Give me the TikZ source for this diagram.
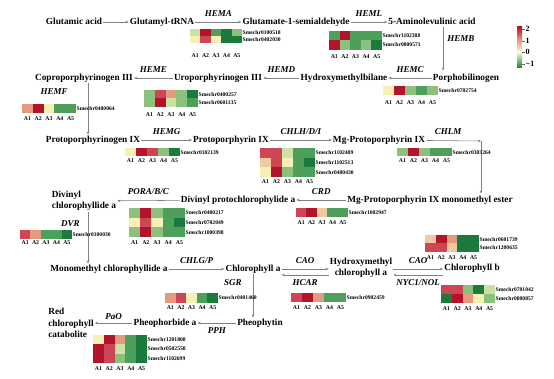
\documentclass[tikz,border=0pt]{standalone}
\usepackage{fontspec}
\setmainfont{Liberation Serif}
\usetikzlibrary{arrows.meta,positioning,calc}

% heat map colours, dark green to dark red
\definecolor{h1}{HTML}{1B7A3E}
\definecolor{h2}{HTML}{4E9E5C}
\definecolor{h3}{HTML}{8CC07C}
\definecolor{h4}{HTML}{CBE2A4}
\definecolor{h5}{HTML}{F6F0B4}
\definecolor{h6}{HTML}{F1C9A0}
\definecolor{h7}{HTML}{E59A80}
\definecolor{h8}{HTML}{CD4653}
\definecolor{h9}{HTML}{B3142B}
\definecolor{hw}{HTML}{FAF6DE}

\tikzset{
  >={Stealth[length=3.2pt,width=2.6pt]},
  cpd/.style={font=\bfseries\fontsize{9.3}{10.5}\selectfont, inner sep=1pt,
    text height=6.5pt, text depth=2pt},
  cpdm/.style={font=\bfseries\fontsize{9.3}{11.2}\selectfont, inner sep=1pt,
    align=left},
  cpdc/.style={cpdm, align=center},
  enz/.style={font=\bfseries\itshape\fontsize{9}{10}\selectfont, inner sep=1pt,
    text height=6.5pt, text depth=1.5pt},
  gene/.style={font=\bfseries\fontsize{5.6}{6.2}\selectfont, inner sep=0.5pt,
    anchor=west},
  col/.style={font=\bfseries\fontsize{5.8}{6.5}\selectfont, inner sep=0pt},
  legnum/.style={font=\bfseries\fontsize{8}{9}\selectfont, inner sep=0.5pt,
    anchor=west},
  arrow/.style={->, draw=black!50, line width=0.55pt}
}

% #1 name, #2 x, #3 y, #4 cell width, #5 cell height, #6 y of A1..A5, #7 rows
\newcommand{\heatmap}[7]{%
  \foreach \cols/\gene [count=\ri] in {#7} {
    \foreach \cc [count=\ci] in \cols
      \fill[\cc] ({#2+(\ci-1)*#4},{#3+(\ri-1)*#5}) rectangle ++(#4,#5);
    \node[gene] (#1-g\ri) at ({#2+5*#4},{#3+(\ri-0.5)*#5}) {\gene};
  }
  \foreach \ci in {1,...,5}
    \node[col] (#1-a\ci) at ({#2+(\ci-0.5)*#4},#6) {A\ci};
}

\begin{document}
\begin{tikzpicture}[x=1pt, y=-1pt]
\useasboundingbox (0,0) rectangle (554,379);

% 1 : Glutamic acid -> 5-Aminolevulinic acid
\node[cpd] (glu) at (74,22) {Glutamic acid};
\node[cpd] (trna) at (162,22) {Glutamyl-tRNA};
\node[cpd] (gsa) at (296,22) {Glutamate-1-semialdehyde};
\node[cpd] (ala) at (432,22) {5-Aminolevulinic acid};
\draw[arrow] (glu) -- (trna);
\draw[arrow] (trna) -- node[enz, above=3pt] (hema) {HEMA} (gsa);
\draw[arrow] (gsa) -- node[enz, above=3pt] (heml) {HEML} (ala);
\heatmap{mapA}{190}{29}{10.4}{7}{56}{{h4,h9,h2,h1,h3}/Smechr0100518, {h5,h8,h5,h1,h1}/Smechr0402030}
\heatmap{mapL}{329}{31}{10.6}{9.3}{57}{{h2,h9,h2,h2,h2}/Smechr1102388, {h9,h3,h2,h3,h1}/Smechr0800571}

% 2 : Porphobilinogen -> Coproporphyrinogen III
\node[cpd] (pbg) at (466,78) {Porphobilinogen};
\node[cpd] (hmb) at (344,78) {Hydroxymethylbilane};
\node[cpd] (uro) at (218,78) {Uroporphyrinogen III};
\node[cpd] (copro) at (84,78) {Coproporphyrinogen III};
\draw[arrow, shorten >=2pt] ([xshift=11pt]ala.south) -- node[enz, right=3pt, pos=0.25] (hemb) {HEMB} ([xshift=11pt]ala.south |- pbg.north);
\draw[arrow] (pbg) -- node[enz, above=3pt] (hemc) {HEMC} (hmb);
\draw[arrow] (hmb) -- node[enz, above=3pt] (hemd) {HEMD} (uro);
\draw[arrow] (uro) -- node[enz, above=3pt] (heme) {HEME} (copro);
\heatmap{mapC}{383}{86}{11}{9}{103}{{h5,h9,h3,h2,h3}/Smechr0702754}
\heatmap{mapD}{144}{90}{10.8}{8.5}{115}{{h3,h8,h7,h3,h1}/Smechr0400257, {h3,h9,h4,h3,h2}/Smechr0601135}

% 3 : Protoporphyrinogen IX -> Mg-Protoporphyrin IX
\node[cpd] (protogen) at (93,140) {Protoporphyrinogen IX};
\node[cpd] (proto) at (231,140) {Protoporphyrin IX};
\node[cpd] (mgproto) at (379,140) {Mg-Protoporphyrin IX};
\draw[arrow] ([xshift=4pt]copro.south) -- node[enz, left=19pt, pos=0.17] (hemf) {HEMF} ([xshift=4pt]copro.south |- protogen.north);
\draw[arrow] (protogen) -- node[enz, above=3pt] (hemg) {HEMG} (proto);
\draw[arrow] (proto) -- node[enz, above=3pt] (chlh) {CHLH/D/I} (mgproto);
\heatmap{mapF}{22}{104}{10.8}{9}{119}{{h7,h9,h5,h2,h2}/Smechr0400064}
\heatmap{mapG}{125}{148}{11}{8.5}{161}{{h5,h9,h8,h3,h1}/Smechr0102139}
\heatmap{mapH}{260}{148}{11}{9.7}{182}{{h8,h8,h4,h2,h2}/Smechr1102489, {h6,h8,h5,h2,h1}/Smechr1102513, {h5,h9,h3,h2,h2}/Smechr0400430}

% 4 : monomethyl ester -> Divinyl chlorophyllide a
\node[cpd] (ester) at (430,200) {Mg-Protoporphyrin IX monomethyl ester};
\node[cpd] (dvpchl) at (238,200) {Divinyl protochlorophylide a};
\node[cpdm] (dvchl) at (84,201) {Divinyl\\chlorophyllide a};
\coordinate (chlmc) at (481,141);
\draw[arrow] (mgproto) -- node[enz, above=3pt, pos=0.4] (chlm) {CHLM} (chlmc);
\draw[arrow, shorten >=1pt] (chlmc) -- (chlmc |- ester.north);
\draw[arrow] (ester) -- node[enz, above=3pt] (crd) {CRD} (dvpchl);
\draw[arrow] (dvpchl) -- node[enz, above=3pt] (pora) {PORA/B/C} (dvchl);
\heatmap{mapM}{397}{148}{11}{8.5}{161}{{h3,h9,h3,h2,h2}/Smechr0303264}
\heatmap{mapR}{296}{208}{10.4}{9}{223}{{h8,h9,h6,h2,h2}/Smechr1002947}
\heatmap{mapP}{129}{208}{11.2}{9.7}{243}{{h3,h9,h3,h2,h2}/Smechr0400217, {h5,h8,h5,h2,h1}/Smechr0702049, {h3,h9,h3,h2,h2}/Smechr1000398}

% 5 : Monomethyl chlorophyllide a -> Chlorophyll b
\node[cpd] (mono) at (109,269) {Monomethyl chlorophyllide a};
\node[cpd] (chla) at (253,269) {Chlorophyll a};
\node[cpdc] (hchla) at (361,268) {Hydroxymethyl\\chlorophyll a};
\node[cpd] (chlb) at (472,268) {Chlorophyll b};
\draw[arrow] ([xshift=4pt]dvchl.south west -| copro.south) -- node[enz, left=7pt, pos=0.24] (dvr) {DVR} ([xshift=4pt]copro.south |- mono.north);
\draw[arrow] (mono) -- node[enz, above=3pt] (chlg) {CHLG/P} (chla);
\draw[arrow] (chla.east) -- node[enz, above=3pt] (caoa) {CAO} (chla.east -| hchla.west);
\draw[arrow] ([yshift=-6pt]chla.east -| hchla.west) -- node[enz, below=3pt] (hcar) {HCAR} ([yshift=-6pt]chla.east);
\draw[arrow] (chla.east -| hchla.east) -- node[enz, above=3pt] (caob) {CAO} (chla.east -| chlb.west);
\draw[arrow] ([yshift=-6pt]chla.east -| chlb.west) -- node[enz, below=3pt] (nyc) {NYC1/NOL} ([yshift=-6pt]chla.east -| hchla.east);
\heatmap{mapV}{20}{230}{10.4}{9}{243}{{h8,h7,h2,h2,h1}/Smechr0100030}
\heatmap{mapB}{425}{235}{10.8}{8.5}{258}{{h6,h9,h7,h1,h1}/Smechr0601739, {h8,h8,h6,h1,h1}/Smechr1200635}
\heatmap{mapN}{441}{285}{10.8}{9}{309}{{h8,h8,h3,h1,h4}/Smechr0701042, {h1,h9,h7,h5,h3}/Smechr0800857}
\heatmap{mapK}{291}{293}{11}{9}{308}{{h8,h9,h7,h2,h2}/Smechr0902459}

% 6 : Pheophytin -> Red chlorophyll catabolite
\node[cpd] (phy) at (260,323) {Pheophytin};
\node[cpd] (pheo) at (165,323) {Pheophorbide a};
\node[cpdm] (rcc) at (71,323) {Red\\chlorophyll\\catabolite};
\draw[arrow] (chla.south) -- node[enz, left=10pt, pos=0.2] (sgr) {SGR} (chla.south |- phy.north);
\draw[arrow] (phy) -- node[enz, below=3pt] (pph) {PPH} (pheo);
\draw[arrow] (pheo) -- node[enz, above=1pt] (pao) {PaO} (rcc);
\heatmap{mapS}{165}{293}{10.6}{10}{308}{{h7,h8,h5,h2,h1}/Smechr0401460}
\heatmap{mapO}{93}{335}{10.8}{9.3}{369}{{h5,h9,h7,h2,h1}/Smechr1201808, {h9,h8,h4,h2,h1}/Smechr0502558, {h9,h8,h3,h2,h1}/Smechr1102699}

% 7 : colour key
\shade[top color=h9, bottom color=h7] (517,27) rectangle (522,40);
\shade[top color=h7, bottom color=hw] (517,40) rectangle (522,52);
\shade[top color=hw, bottom color=h3] (517,52) rectangle (522,60);
\shade[top color=h3, bottom color=h1] (517,60) rectangle (522,68);
\foreach \v/\yy [count=\k] in {2/29,1/41,0/52,−1/64} {
  \draw[black!60, line width=0.4pt] (522,\yy) -- (524.5,\yy);
  \node[legnum] (key\k) at (525,\yy) {\v};
}

\end{tikzpicture}
\end{document}
